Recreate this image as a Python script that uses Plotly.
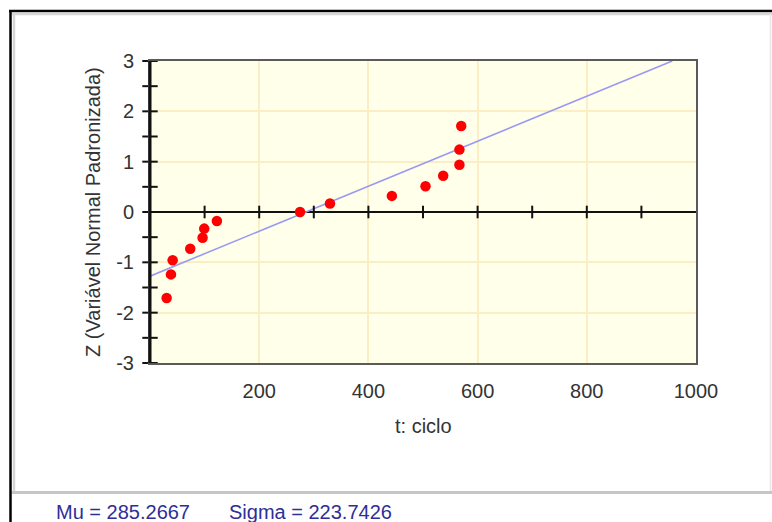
import plotly.graph_objects as go

# ---- data ----
t_ciclo = [30.5, 38.4, 41.5, 73.7, 96.3, 99.3, 122.5, 274.8, 329.6, 443.0, 504.6, 537.0, 566.7, 566.7, 570.0]
z_vals = [-1.71, -1.24, -0.96, -0.73, -0.51, -0.33, -0.18, 0.0, 0.17, 0.32, 0.51, 0.72, 0.94, 1.24, 1.71]
line_t = [0, 956.5]
line_z = [-1.275, 3.0]
x_tickvals = [200, 400, 600, 800, 1000]
y_tickvals = [-3, -2, -1, 0, 1, 2, 3]
zero_line_ticks = [100, 200, 300, 400, 500, 600, 700, 800, 900]
y_cross_ticks = [-3, -2.5, -2, -1.5, -1, -0.5, 0, 0.5, 1, 1.5, 2, 2.5, 3]
mu_text = "Mu = 285.2667"
sigma_text = "Sigma = 223.7426"

W, H = 772, 522
L, R, T, B = 150, 696, 61, 363


def px2x(X):
    return (X - L) / (R - L)


def px2y(Y):
    return (B - Y) / (B - T)


FONT = "Liberation Sans, Arial, sans-serif"

fig = go.Figure()

fig.add_trace(go.Scatter(x=line_t, y=line_z, mode="lines",
                         line=dict(color="#9999f5", width=1.6),
                         hoverinfo="skip", showlegend=False))

fig.add_trace(go.Scatter(x=t_ciclo, y=z_vals, mode="markers",
                         marker=dict(color="#ff0000", size=10.5, line=dict(width=0)),
                         showlegend=False))

# crossing tick marks on the zero line
fig.add_trace(go.Scatter(x=zero_line_ticks, y=[0] * len(zero_line_ticks), mode="markers",
                         marker=dict(symbol="line-ns", size=9, line=dict(color="#111111", width=2)),
                         hoverinfo="skip", showlegend=False, cliponaxis=False))
# crossing tick marks on the left axis
fig.add_trace(go.Scatter(x=[0] * len(y_cross_ticks), y=y_cross_ticks, mode="markers",
                         marker=dict(symbol="line-ew", size=11, line=dict(color="#111111", width=2)),
                         hoverinfo="skip", showlegend=False, cliponaxis=False))

shapes = [
    # outer window frame
    dict(type="line", xref="paper", yref="paper", x0=px2x(9), x1=px2x(772), y0=px2y(11), y1=px2y(11),
         line=dict(color="#000000", width=2.5)),
    dict(type="line", xref="paper", yref="paper", x0=px2x(10.5), x1=px2x(10.5), y0=px2y(10), y1=px2y(522),
         line=dict(color="#000000", width=2.5)),
    dict(type="line", xref="paper", yref="paper", x0=px2x(12), x1=px2x(772), y0=px2y(14), y1=px2y(14),
         line=dict(color="#d6d6d6", width=2.5)),
    dict(type="line", xref="paper", yref="paper", x0=px2x(14), x1=px2x(14), y0=px2y(13), y1=px2y(492),
         line=dict(color="#d6d6d6", width=2.5)),
    dict(type="line", xref="paper", yref="paper", x0=px2x(12), x1=px2x(772), y0=px2y(492.5), y1=px2y(492.5),
         line=dict(color="#c6c6c6", width=3)),
    dict(type="line", xref="paper", yref="paper", x0=px2x(770.5), x1=px2x(770.5), y0=px2y(14), y1=px2y(491),
         line=dict(color="#e6e6e6", width=1.5)),
    # left axis (black, thicker)
    dict(type="line", xref="paper", yref="paper", x0=0, x1=0, y0=0, y1=1,
         line=dict(color="#111111", width=3)),
]

annotations = [
    dict(text="Z (Variável Normal Padronizada)", xref="paper", yref="paper",
         x=px2x(93), y=px2y(212), textangle=-90, showarrow=False,
         font=dict(family=FONT, size=20, color="#333333"), xanchor="center", yanchor="middle"),
    dict(text="t: ciclo", xref="paper", yref="paper",
         x=px2x(423), y=px2y(426), showarrow=False,
         font=dict(family=FONT, size=20, color="#333333"), xanchor="center", yanchor="middle"),
    dict(text=mu_text, xref="paper", yref="paper",
         x=px2x(54), y=px2y(512), showarrow=False,
         font=dict(family=FONT, size=20, color="#2e2e96"), xanchor="left", yanchor="middle"),
    dict(text=sigma_text, xref="paper", yref="paper",
         x=px2x(227), y=px2y(512), showarrow=False,
         font=dict(family=FONT, size=20, color="#2e2e96"), xanchor="left", yanchor="middle"),
]

fig.update_layout(
    width=W, height=H,
    margin=dict(l=L, r=W - R, t=T, b=H - B, pad=0),
    paper_bgcolor="#ffffff",
    plot_bgcolor="#ffffea",
    shapes=shapes,
    annotations=annotations,
    showlegend=False,
    font=dict(family=FONT, size=20, color="#333333"),
    xaxis=dict(range=[0, 1000], tickvals=x_tickvals, ticktext=[str(v) for v in x_tickvals],
               showgrid=True, gridcolor="#fbeec4", gridwidth=1.5,
               zeroline=False, showline=True, linecolor="#5a5a5a", linewidth=2, mirror=True,
               ticks="outside", ticklen=9, tickcolor="rgba(0,0,0,0)",
               tickfont=dict(family=FONT, size=20, color="#333333"), fixedrange=True),
    yaxis=dict(range=[-3, 3], tickvals=y_tickvals, ticktext=[str(v) for v in y_tickvals],
               showgrid=True, gridcolor="#fbeec4", gridwidth=1.5,
               zeroline=True, zerolinecolor="#111111", zerolinewidth=2,
               showline=True, linecolor="#5a5a5a", linewidth=2, mirror=True,
               ticks="outside", ticklen=10, tickcolor="rgba(0,0,0,0)",
               tickfont=dict(family=FONT, size=20, color="#333333"), fixedrange=True),
)

fig.write_html("out.html", config={"displayModeBar": False},
               post_script="document.body.style.margin='0';document.body.style.overflow='hidden';")
